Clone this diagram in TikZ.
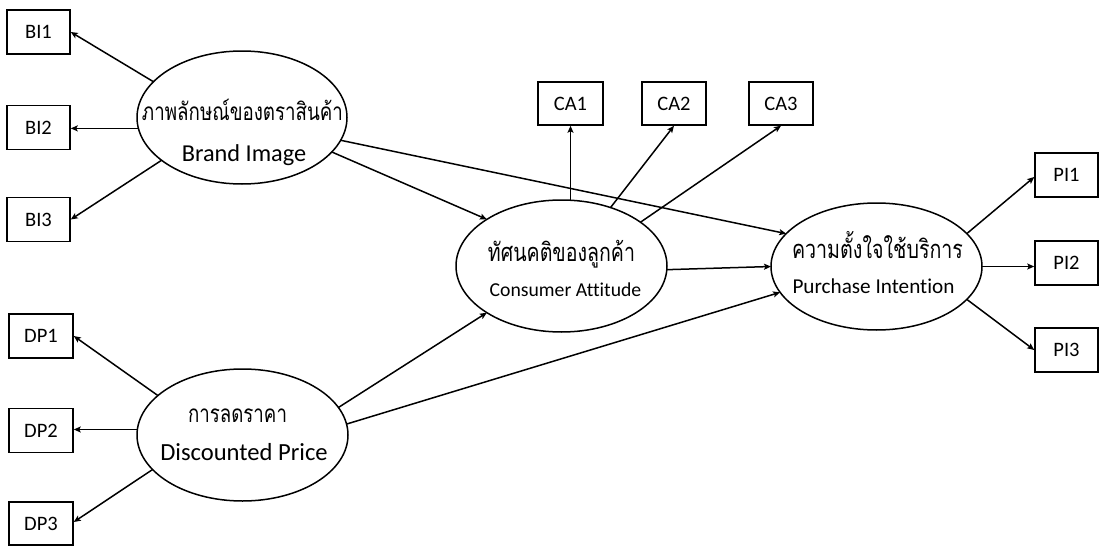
\documentclass[tikz,border=0pt]{standalone}
\usepackage{fontspec}
\setmainfont{Carlito}[Ligatures=NoCommon]
\newfontfamily\thai[Script=Thai]{Loma}
\usetikzlibrary{shapes.geometric,arrows.meta}
\newcommand{\thaitext}[2]{\scalebox{1}[1.3]{\resizebox{#1}{!}{\thai\fontsize{20}{22}\selectfont #2}}}
\begin{document}
\begin{tikzpicture}[x=1pt,y=-1pt,
  ind/.style={draw,line width=1.5pt,minimum width=63pt,minimum height=44pt,inner sep=0pt,font=\fontsize{20.5}{22}\selectfont},
  lat/.style={draw,ellipse,line width=1.5pt,inner sep=0pt,outer sep=0pt},
  arr/.style={line width=1.5pt,-{Stealth[length=7pt,width=6pt,inset=1.5pt]}},
  txt/.style={inner sep=0pt,anchor=base}]
\useasboundingbox (0,0) rectangle (1101,546);
% indicator boxes
\node[ind] (bi1) at (38.5,32) {BI1};
\node[ind] (bi2) at (38.5,127.5) {BI2};
\node[ind] (bi3) at (38.5,219.5) {BI3};
\node[ind,minimum width=64pt] (dp1) at (41,336) {DP1};
\node[ind,minimum width=64pt] (dp2) at (41,430.5) {DP2};
\node[ind,minimum width=64pt,minimum height=43pt] (dp3) at (41,523.5) {DP3};
\node[ind,minimum width=65pt,minimum height=43pt] (ca1) at (570.5,103.5) {CA1};
\node[ind,minimum width=64pt,minimum height=43pt] (ca2) at (674,103.5) {CA2};
\node[ind,minimum width=64pt,minimum height=43pt] (ca3) at (781,103.5) {CA3};
\node[ind] (pi1) at (1066.5,175) {PI1};
\node[ind] (pi2) at (1066.5,263) {PI2};
\node[ind] (pi3) at (1066.5,350) {PI3};
% latent ellipses
\node[lat,minimum width=210pt,minimum height=133pt] (bi) at (242,117.5) {};
\node[lat,minimum width=211pt,minimum height=132pt] (dp) at (242.5,435) {};
\node[lat,minimum width=211pt,minimum height=132pt] (ca) at (561.5,266) {};
\node[lat,minimum width=211pt,minimum height=127pt] (pi) at (876.5,266.5) {};
% texts
\node[txt] (bith) at (242.5,120) {\thaitext{201pt}{ภาพลักษณ์ของตราสินค้า}};
\node[txt,font=\fontsize{24.3}{26}\selectfont] (bien) at (244,161) {Brand Image};
\node[txt] (dpth) at (237.5,422.7) {\thaitext{99pt}{การลดราคา}};
\node[txt,font=\fontsize{24.6}{26}\selectfont] (dpen) at (244,460) {Discounted Price};
\node[txt] (cath) at (561.5,261.5) {\thaitext{147pt}{ทัศนคติของลูกค้า}};
\node[txt,font=\fontsize{19.7}{22}\selectfont] (caen) at (565.5,296) {Consumer Attitude};
\node[txt] (pith) at (877.5,258.5) {\thaitext{171pt}{ความตั้งใจใช้บริการ}};
\node[txt,font=\fontsize{21.2}{23}\selectfont] (pien) at (873.5,293) {Purchase Intention};
% measurement arrows
\draw[arr] (bi.158) -- (bi1.east);
\draw[arr] (bi.186) -- (bi.186 -| bi2.east);
\draw[arr] (bi.208) -- (bi3.east);
\draw[arr] (dp.155) -- (dp1.east);
\draw[arr] (dp.177) -- (dp.177 -| dp2.east);
\draw[arr] (dp.201) -- ([yshift=1.5pt]dp3.east);
\draw[arr] (ca1.south |- ca.north) -- (ca1.south);
\draw[arr] (ca.50) -- (ca2.south);
\draw[arr] (ca.29.5) -- (ca3.south);
\draw[arr] (pi.20) -- ([yshift=-2pt]pi1.west);
\draw[arr] (pi.east) -- (pi.east -| pi2.west);
\draw[arr] (pi.-20) -- (pi3.west);
% structural arrows
\draw[arr] (bi.-21.6) -- (ca.148.6);
\draw[arr] (bi.-13.9) -- (pi.160.5);
\draw[arr] (ca.-2) -- (pi.180.5);
\draw[arr] (dp.16) -- (ca.212);
\draw[arr] (dp.6.5) -- (pi.195.7);
\end{tikzpicture}
\end{document}
